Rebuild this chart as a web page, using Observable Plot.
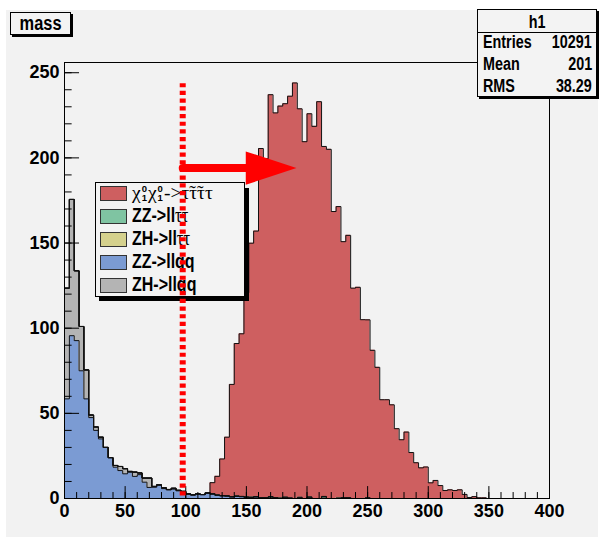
<!DOCTYPE html>
<html><head><meta charset="utf-8">
<script src="https://cdn.jsdelivr.net/npm/d3@7"></script>
<script src="https://cdn.jsdelivr.net/npm/@observablehq/plot@0.6"></script>
<style>
body{margin:0;background:#fff;}
#wrap{position:relative;width:600px;height:549px;overflow:hidden;background:#fff;
  font-family:"Liberation Sans",Arial,sans-serif;font-weight:bold;color:#000}
.abs{position:absolute}
#bg{left:6px;top:10px;width:592px;height:527px;background:#f2f2f2}
.box{background:#f3f3f3;border:1px solid #000;box-sizing:border-box}
.nar{display:inline-block;transform:scaleX(0.82)}
#title{left:10px;top:12px;width:61px;height:23px;box-shadow:2px 2px 0 #000;font-size:20px;line-height:20px;text-align:center}
#title .nar{transform-origin:center}
#stats{left:477px;top:9px;width:120px;height:88px;box-shadow:2px 2px 0 #000;font-size:17.5px;line-height:20px}
#stats .row{position:absolute;left:5px;right:4px;height:20px}
#stats .lab{position:absolute;left:0;top:0;transform-origin:left center}
#stats .val{position:absolute;right:0;top:0;transform-origin:right center}
#stats .hd{position:absolute;left:0;right:0;top:2px;text-align:center}
#stats .hd .nar{transform-origin:center}
#stats .sep{position:absolute;left:0;right:0;top:22px;border-top:1px solid #000}
#legshadow{left:99px;top:188px;width:150px;height:113px;background:#000}
#legend{left:95px;top:182px;width:150px;height:115px}
.lrow{position:absolute;left:36px;height:21px;font-size:19.5px;line-height:21px;white-space:nowrap}
.lrow.n{transform:scaleX(0.82);transform-origin:left center}
.sw{position:absolute;left:4px;width:27px;height:15px;border:1px solid #333;box-sizing:border-box}
.ser{font-family:"Liberation Serif","DejaVu Serif",serif;font-weight:normal}
.ss{display:inline-block;font-size:9.5px;line-height:9px;vertical-align:-2px;font-weight:bold;font-family:"Liberation Sans",sans-serif;margin:0 1px;text-align:left}
</style>
</head><body>
<div id="wrap">
  <div id="bg" class="abs"></div>
  <div id="plot" class="abs" style="left:0;top:0"></div>
  <div id="legshadow" class="abs"></div>
  <div id="legend" class="abs box"></div>
  <div id="overlay" class="abs" style="left:0;top:0"></div>
  <div id="title" class="abs box"><span class="nar">mass</span></div>
  <div id="stats" class="abs box"></div>
</div>
<script>
// ---------- data ----------
const binWidth = 4;
const xMax = 400;
const binStarts = d3.range(0, xMax, binWidth);

// ZZ->llqq (blue, bottom of stack)
const zzllqq = [
  58.5, 95.6, 92.7, 75, 58.5, 47.5, 40, 35, 30, 24,
  18.4, 16.4, 14.5, 15.4, 13, 14, 9.6, 6.5, 6.6, 8,
  5.8, 5, 5.5, 4.5, 3.9, 2.7, 2, 2.7, 2.3, 3.1,
  2.5, 2, 1.5, 1.5, 1, 1.2, 1, 0.8, 0.6, 1,
  0.5, 0.5, 0.3, 0.4, 0, 0.3, 0.2, 0, 0.3, 0,
  0.3, 0, 0, 0.2, 0, 0, 0, 0.3, 0, 0,
  0,0,0,0,0,0,0,0,0,0,
  0,0,0,0,0,0,0,0,0,0,
  0,0,0,0,0,0,0,0,0,0,
  0,0,0,0,0,0,0,0,0,0
];
// ZH->llqq (grey)
const zhllqq = [
  65, 80, 41, 26, 17, 1.5, 2, 1, 0, 0,
  1, 2.4, 3, 0.5, 2.5, 1, 2.4, 5.5, 0.5, 0,
  0.5, 0.3, 0.5, 0.3, 0.3, 0, 0.2, 0, 0, 0.2,
  0.3, 0, 0.2, 0, 0, 0, 0.2, 0, 0, 0,
  0,0,0,0,0,0,0,0,0,0,
  0,0,0,0,0,0,0,0,0,0,
  0,0,0,0,0,0,0,0,0,0,
  0,0,0,0,0,0,0,0,0,0,
  0,0,0,0,0,0,0,0,0,0,
  0,0,0,0,0,0,0,0,0,0
];
// ZZ->ll tau tau (green)
const zzlltt = [
  0,0,0,0,0,0,0,0,0,0,
  0,0,0,0,0,0,0,0,0,0,
  0,0,0,0,0,0,0,0,0,0,
  0,0,0,0,0,0.3,0,0,0,0,
  0,0,0.8,0,0,0.5,0,0,0,0,
  0.6,0,0,1,0,0,0,0,0.5,0,
  0,0,0.4,0,0,0,0,0,0,0,
  0,0,0,0,0,0,0,0,0,0,
  0,0,0,0,0,0,0,0,0,0,
  0,0,0,0,0,0,0,0,0,0
];
// ZH->ll tau tau (yellow)
const zhlltt = [
  0,0,0,0,0,0,0,0,0,0,
  0,0,0,0,0,0,0,0,0,0,
  0,0,0,0,0,0,0,0,0,0,
  0,0,0,0,0,0,0,0,0.3,0,
  0,0,0,0,0.4,0,0,0,0.5,0,
  0,0,0,0,0,0,0.4,0,0,0,
  0,0,0,0,0,0,0,0,0,0,
  0,0,0,0,0,0,0,0,0,0,
  0,0,0,0,0,0,0,0,0,0,
  0,0,0,0,0,0,0,0,0,0
];
// signal (red, top of stack)
const signal = [
  0,0,0,0,0,0,0,0,0,0,
  0,0,0,0,0,0,0,0,0,0,
  0,0,0,0,0,0,0,0,0,0,
  6.5, 11, 21.5, 34.5, 66, 89.5, 95.5, 120, 149, 156,
  205, 199, 236, 226, 230, 231, 236, 244, 228, 209.5,
  225, 218.5, 233, 205.5, 205, 168.5, 171, 150.5, 154, 123.5,
  124, 105, 104.5, 87, 77, 58, 58, 55, 41, 34.5,
  39, 27, 21, 18, 18.5, 9.2, 10.6, 7.6, 4.7, 5.1,
  4.7, 5.1, 2.4, 0.6, 1.1, 0.4, 0.4, 0, 0, 0,
  0,0,0,0,0,0,0,0,0,0
];

const xMajor = [0, 50, 100, 150, 200, 250, 300, 350, 400];
const xMinor = d3.range(0, 401, 10);
const yMajor = [0, 50, 100, 150, 200, 250];
const yMinor = d3.range(0, 251, 10);

const cutX = 97.5;          // red dashed cut line
const cutY = [1.5, 245];
const arrowX = [97.5, 149.5, 191.3];  // shaft start, head base, tip
const arrowY = 194;
const arrowHalf = 9.8;

const statsLabels = ["Entries", "Mean", "RMS"];
const statsValues = ["10291", "201", "38.29"];
const colors = {signal: "#ce5f60", zzlltt: "#7fc4a2", zhlltt: "#d5d18d", zzllqq: "#7b9bd3", zhllqq: "#b4b4b4"};

// ---------- stack ----------
const layers = [
  {values: zzllqq, color: colors.zzllqq},
  {values: zhllqq, color: colors.zhllqq},
  {values: zzlltt, color: colors.zzlltt},
  {values: zhlltt, color: colors.zhlltt},
  {values: signal, color: colors.signal}
];
let base = binStarts.map(() => 0);
const stacked = layers.map(L => {
  const pts = binStarts.map((x, i) => ({x, y1: base[i], y2: base[i] + L.values[i]}));
  pts.push({x: xMax, y1: pts[pts.length - 1].y1, y2: pts[pts.length - 1].y2});
  base = base.map((b, i) => b + L.values[i]);
  return {...L, pts};
});

// tick lengths (in data units of the perpendicular axis)
const yTickLen = {major: 12.4, minor: 6.3};
const xTickLen = {major: 7.0, minor: 3.5};

const common = {
  width: 600, height: 549,
  marginTop: 62, marginRight: 51, marginBottom: 51, marginLeft: 64,
  x: {domain: [0, xMax], label: null, axis: null},
  y: {domain: [0, 256], label: null, axis: null},
  style: {background: "transparent", fontFamily: '"Liberation Sans",Arial,sans-serif', fontSize: "18px", fontWeight: "bold", color: "#000", overflow: "visible"}
};

const main = Plot.plot({
  ...common,
  marks: [
    ...stacked.map(s => Plot.areaY(s.pts, {x: "x", y1: "y1", y2: "y2", curve: "step-after", fill: s.color})),
    ...stacked.map(s => Plot.lineY(s.pts, {x: "x", y: "y2", curve: "step-after", stroke: "#111", strokeWidth: 1})),
    Plot.frame({stroke: "#000"}),
    Plot.ruleY(yMajor, {y: d => d, x1: 0, x2: yTickLen.major, stroke: "#000"}),
    Plot.ruleY(yMinor, {y: d => d, x1: 0, x2: yTickLen.minor, stroke: "#000"}),
    Plot.ruleX(xMajor, {x: d => d, y1: 0, y2: xTickLen.major, stroke: "#000"}),
    Plot.ruleX(xMinor, {x: d => d, y1: 0, y2: xTickLen.minor, stroke: "#000"}),
    Plot.text(yMajor, {x: 0, y: d => d, text: d => String(d), textAnchor: "end", dx: -5, fill: "#000", fontSize: 18, fontWeight: "bold", ariaLabel: "ylab"}),
    Plot.text(xMajor, {x: d => d, y: 0, text: d => String(d), lineAnchor: "top", dy: 6, fill: "#000", fontSize: 18, fontWeight: "bold", ariaLabel: "xlab"})
  ]
});
// narrow the tick-label glyphs (ROOT uses a condensed bold face)
main.querySelectorAll('g[aria-label="ylab"] text, g[aria-label="xlab"] text').forEach(t => {
  const tr = t.getAttribute("transform");
  if (tr) { t.setAttribute("transform", tr + " scale(0.82,1)"); }
  else {
    const x = +t.getAttribute("x") || 0, y = +t.getAttribute("y") || 0;
    t.setAttribute("x", 0); t.setAttribute("y", 0);
    t.setAttribute("transform", `translate(${x},${y}) scale(0.82,1)`);
  }
});
document.getElementById("plot").appendChild(main);

const tri = [
  {x: arrowX[1], y: arrowY + arrowHalf},
  {x: arrowX[2], y: arrowY},
  {x: arrowX[1], y: arrowY - arrowHalf},
  {x: arrowX[1], y: arrowY + arrowHalf}
];
const over = Plot.plot({
  ...common,
  marks: [
    Plot.ruleX([cutX], {x: d => d, y1: cutY[0], y2: cutY[1], stroke: "#ff0000", strokeWidth: 6, strokeDasharray: "4.2 3.5"}),
    Plot.line([{x: arrowX[0], y: arrowY}, {x: arrowX[1] + 1, y: arrowY}], {x: "x", y: "y", stroke: "#ff0000", strokeWidth: 8}),
    Plot.line(tri, {x: "x", y: "y", fill: "#ff0000", stroke: "none"})
  ]
});
document.getElementById("overlay").appendChild(over);

// ---------- legend ----------
const legend = document.getElementById("legend");
const ss = '<span class="ss">0<br>1</span>';
const legendRows = [
  {html: '<span class="ser">χ' + ss + 'χ' + ss + '-&gt;τ̃τ̃ττ</span>', color: colors.signal, narrow: false},
  {html: 'ZZ-&gt;ll<span class="ser" style="font-size:20px">ττ</span>', color: colors.zzlltt, narrow: true},
  {html: 'ZH-&gt;ll<span class="ser" style="font-size:20px">ττ</span>', color: colors.zhlltt, narrow: true},
  {html: 'ZZ-&gt;llqq', color: colors.zzllqq, narrow: true},
  {html: 'ZH-&gt;llqq', color: colors.zhllqq, narrow: true}
];
legendRows.forEach((r, i) => {
  const cy = 10 + i * 23;   // row centre relative to legend box
  const sw = document.createElement("div");
  sw.className = "sw";
  sw.style.top = (cy - 7.5) + "px";
  sw.style.background = r.color;
  legend.appendChild(sw);
  const t = document.createElement("div");
  t.className = "lrow" + (r.narrow ? " n" : "");
  t.style.top = (cy - 11.5) + "px";
  t.innerHTML = r.html;
  legend.appendChild(t);
});

// ---------- stats ----------
const stats = document.getElementById("stats");
stats.innerHTML = '<div class="hd"><span class="nar">h1</span></div><div class="sep"></div>' +
  statsLabels.map((l, i) => `<div class="row" style="top:${22 + i * 22}px"><span class="nar lab">${l}</span><span class="nar val">${statsValues[i]}</span></div>`).join("");
</script>
</body></html>
